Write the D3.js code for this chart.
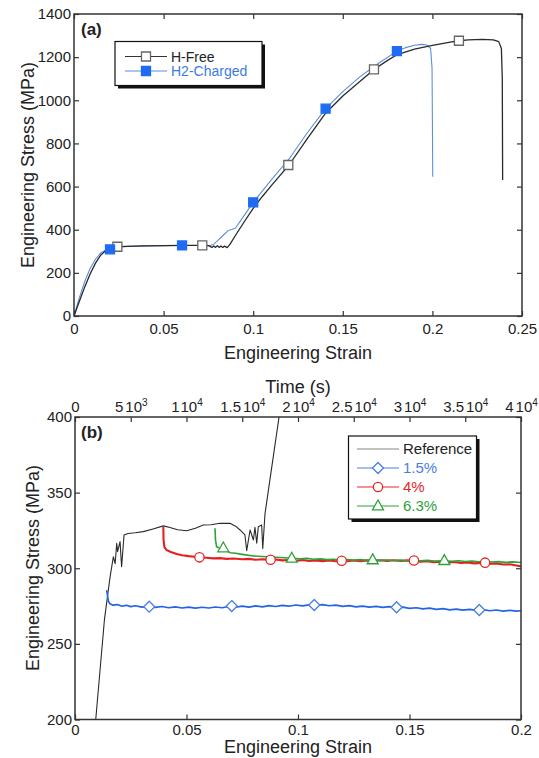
<!DOCTYPE html>
<html>
<head>
<meta charset="utf-8">
<style>

html, body {
  margin: 0; padding: 0;
  background: #fff;
}

text {
  font-family: "Liberation Sans", Arial, sans-serif;
  fill: #222;
}

.tick line {
  stroke: #333;
  stroke-width: 1.2;
}

</style>
<script src="https://cdn.jsdelivr.net/npm/d3@7"></script>
</head>
<body>
<script>
// ---------- panel (a): strain, stress (MPa) ----------
var hFree = [
	[0,0],[0.003,68],[0.006,135],[0.009,195],[0.012,245],[0.015,283],[0.018,306],[0.021,317],
	[0.024,321],[0.03,323],[0.04,325],[0.05,326],[0.06,327],[0.07,327],[0.075,326],
	[0.077,318],[0.078,325],[0.079,318],[0.080,326],[0.081,318],[0.082,325],[0.083,318],
	[0.084,324],[0.0855,317],[0.087,332],[0.09,372],[0.095,437],[0.1,499],[0.105,553],
	[0.11,603],[0.115,652],[0.12,700],[0.13,820],[0.1404,940],[0.15,1020],[0.16,1090],
	[0.1674,1143],[0.175,1185],[0.18,1210],[0.19,1237],[0.2,1255],[0.21,1270],[0.2148,1276],
	[0.22,1280],[0.228,1282],[0.234,1280],[0.237,1272],[0.2385,1240],[0.239,1100],[0.2392,630]
];
var h2Charged = [
	[0,0],[0.003,85],[0.006,160],[0.009,220],[0.012,263],[0.015,293],[0.018,306],[0.0201,309],
	[0.024,320],[0.03,323],[0.04,325],[0.05,326],[0.0603,327],[0.07,327],[0.076,327],
	[0.078,333],[0.08,348],[0.083,372],[0.086,396],[0.088,401],[0.09,407],[0.093,442],
	[0.1,527],[0.11,630],[0.12,728],[0.13,847],[0.1404,961],[0.15,1040],[0.16,1112],
	[0.17,1172],[0.1802,1228],[0.185,1244],[0.19,1255],[0.194,1259],[0.197,1256],
	[0.199,1240],[0.1998,1150],[0.2002,645]
];
var hFreeMarks = [[0.0242,321],[0.0716,327],[0.1196,700],[0.1674,1143],[0.2148,1276]];
var h2Marks = [[0.0201,309],[0.0603,327],[0.1,527],[0.1404,961],[0.1802,1228]];
var strainTicksA = [0, 0.05, 0.1, 0.15, 0.2, 0.25];
var stressTicksA = [0, 200, 400, 600, 800, 1000, 1200, 1400];
var legendA = ["H-Free", "H2-Charged"];

// ---------- panel (b) ----------
var reference = [
	[0.0093,200],[0.0132,266],[0.0157,294],[0.0172,307.6],[0.018,303],[0.0187,316.5],
	[0.0191,311],[0.0202,317.6],[0.0209,301],[0.022,322],[0.0238,323],[0.027,323.5],
	[0.0306,324.2],[0.035,326],[0.0396,328],[0.0426,327],[0.046,325.5],[0.0501,324.8],
	[0.054,326.5],[0.0575,328.6],[0.061,328.8],[0.065,329.7],[0.0695,329.7],[0.072,327.8],
	[0.074,325.3],[0.0762,322],[0.077,311.6],[0.0785,325.3],[0.08,318.7],[0.0807,327],
	[0.0815,316.5],[0.0822,327.5],[0.0837,328.6],[0.0842,313],[0.0852,336],[0.0874,358.4],
	[0.0916,401]
];
var pre15 = [
	[0.0142,285.6],[0.015,278],[0.0157,276.5],[0.017,275.6],[0.019,276],[0.021,274.9],
	[0.023,275.5],[0.025,274.6],[0.027,275.2],[0.03,274.3],[0.033,274.8],[0.036,274.1],
	[0.039,274.7],[0.042,273.9],[0.045,274.5],[0.048,273.7],[0.051,274.3],[0.054,273.6],
	[0.057,274.2],[0.06,273.7],[0.063,274.4],[0.066,273.9],[0.069,274.7],[0.072,274.2],
	[0.075,274.9],[0.078,274.3],[0.081,275.1],[0.084,274.5],[0.087,275.3],[0.09,274.7],
	[0.093,275.5],[0.096,274.9],[0.099,275.7],[0.102,275.1],[0.105,275.8],[0.108,275.4],
	[0.111,276],[0.114,275.2],[0.117,275.6],[0.12,274.8],[0.123,275.3],[0.126,274.5],
	[0.129,275],[0.132,274.3],[0.135,274.8],[0.138,274.1],[0.141,274.6],[0.144,273.9],
	[0.147,274.3],[0.15,273.5],[0.153,273.9],[0.156,273.1],[0.159,273.6],[0.162,272.8],
	[0.165,273.3],[0.168,272.5],[0.171,273],[0.174,272.3],[0.177,272.8],[0.18,272.1],
	[0.183,272.6],[0.186,271.9],[0.189,272.4],[0.192,271.7],[0.195,272.2],[0.198,271.6],
	[0.2,271.9]
];
var pre4 = [
	[0.0396,327.5],[0.0397,319],[0.0401,314],[0.0411,312],[0.043,310.8],[0.0456,309.4],
	[0.048,308.6],[0.051,308],[0.0535,307.6],[0.0558,307.2],[0.059,306.9],[0.062,306.5],
	[0.065,306.7],[0.068,306.2],[0.071,306.4],[0.075,305.9],[0.078,306.2],[0.081,305.6],
	[0.084,305.9],[0.0877,305.6],[0.09,305.8],[0.093,305.2],[0.096,305.5],[0.099,305],
	[0.102,305.4],[0.105,304.8],[0.108,305.2],[0.111,304.7],[0.114,305.1],[0.117,304.6],
	[0.1196,305],[0.122,304.6],[0.125,305.1],[0.128,304.7],[0.131,305.2],[0.134,304.8],
	[0.137,305.3],[0.14,304.9],[0.143,305.3],[0.146,304.8],[0.149,305.2],[0.152,305],
	[0.155,304.4],[0.158,304.7],[0.161,304],[0.164,304.3],[0.167,303.7],[0.17,304.1],
	[0.173,303.5],[0.176,303.8],[0.179,303.2],[0.1839,303.7],[0.186,303],[0.189,303.2],
	[0.192,302.5],[0.195,302.6],[0.198,301.8],[0.2,301.2]
];
var pre63 = [
	[0.0628,326.4],[0.063,319],[0.0635,314.2],[0.0645,313.6],[0.0665,313],[0.068,311.6],
	[0.0695,310.3],[0.072,309.9],[0.075,309.2],[0.08,308.1],[0.084,307.8],[0.088,307.4],
	[0.092,307.1],[0.0972,306.6],[0.101,306.3],[0.104,306.5],[0.107,306],[0.11,306.2],
	[0.113,305.7],[0.116,306],[0.119,305.5],[0.122,305.8],[0.125,305.4],[0.128,305.7],
	[0.131,305.3],[0.1335,305.5],[0.137,305.2],[0.14,305.5],[0.143,305.1],[0.146,305.4],
	[0.149,305],[0.152,305.3],[0.155,304.9],[0.158,305.2],[0.161,304.8],[0.1656,305],
	[0.169,304.6],[0.172,305],[0.175,304.5],[0.178,304.8],[0.181,304.3],[0.184,304.6],
	[0.187,304.1],[0.19,304.4],[0.193,303.9],[0.196,304.2],[0.2,303.8]
];
var marks15 = [[0.0333,274.6],[0.0703,275],[0.1073,275.7],[0.1442,274.2],[0.1813,272.4]];
var marks4 = [[0.0558,307.2],[0.0877,305.6],[0.1196,305],[0.152,305.1],[0.1839,303.7]];
var marks63 = [[0.0665,313.4],[0.0972,306.6],[0.1335,305.5],[0.1656,305]];
var strainTicksB = [0, 0.05, 0.1, 0.15, 0.2];
var stressTicksB = [200, 250, 300, 350, 400];
var timeTicks = [0, 5000, 10000, 15000, 20000, 25000, 30000, 35000, 40000];
var timeMantissa = ["0", "5", "1", "1.5", "2", "2.5", "3", "3.5", "4"];
var timeExponent = ["", "3", "4", "4", "4", "4", "4", "4", "4"];
var legendB = ["Reference", "1.5%", "4%", "6.3%"];

var W = 539, H = 758;

var svg = d3.select("body").append("svg")
	.attr("width", W)
	.attr("height", H)
	.style("background", "#fff");

var xa = d3.scaleLinear().domain([0, 0.25]).range([74, 522]);
var ya = d3.scaleLinear().domain([0, 1400]).range([316, 14]);
var xb = d3.scaleLinear().domain([0, 0.2]).range([75, 521]);
var yb = d3.scaleLinear().domain([200, 400]).range([719.5, 417]);
var tb = d3.scaleLinear().domain([0, 40000]).range([75, 521]);

var fmt = function(d) { return String(d); };

// ticks point inward on all four sides, labels on left and bottom
var drawFrame = function(x, y, xTicks, yTicks, bottomPad, withTop) {
	var x0 = x.range()[0], x1 = x.range()[1];
	var y0 = y.range()[1], y1 = y.range()[0];

	svg.append("g")
		.attr("transform", "translate(0," + y1 + ")")
		.call(d3.axisBottom(x).tickValues(xTicks).tickSizeInner(-5).tickSizeOuter(0)
			.tickPadding(bottomPad).tickFormat(fmt))
		.call(function(g) { g.select(".domain").remove(); });

	svg.append("g")
		.attr("transform", "translate(" + x0 + ",0)")
		.call(d3.axisLeft(y).tickValues(yTicks).tickSizeInner(-5).tickSizeOuter(0)
			.tickPadding(3).tickFormat(fmt))
		.call(function(g) { g.select(".domain").remove(); });

	svg.append("g")
		.attr("transform", "translate(" + x1 + ",0)")
		.call(d3.axisRight(y).tickValues(yTicks).tickSizeInner(-5).tickSizeOuter(0).tickFormat(""))
		.call(function(g) { g.select(".domain").remove(); });

	if (withTop) {
		svg.append("g")
			.attr("transform", "translate(0," + y0 + ")")
			.call(d3.axisTop(x).tickValues(xTicks).tickSizeInner(-5).tickSizeOuter(0).tickFormat(""))
			.call(function(g) { g.select(".domain").remove(); });
	}

	svg.selectAll(".tick text")
		.style("font-size", "15px")
		.attr("fill", "#222");

	svg.append("rect")
		.attr("x", x0).attr("y", y0)
		.attr("width", x1 - x0).attr("height", y1 - y0)
		.attr("fill", "none")
		.attr("stroke", "#333")
		.attr("stroke-width", 1.5);
};

var addClip = function(id, x, y) {
	svg.append("clipPath").attr("id", id)
		.append("rect")
		.attr("x", x.range()[0]).attr("y", y.range()[1])
		.attr("width", x.range()[1] - x.range()[0])
		.attr("height", y.range()[0] - y.range()[1]);
};

var drawLine = function(data, x, y, color, width, clip) {
	var line = d3.line()
		.x(function(d) { return x(d[0]); })
		.y(function(d) { return y(d[1]); });
	svg.append("path")
		.datum(data)
		.attr("d", line)
		.attr("fill", "none")
		.attr("stroke", color)
		.attr("stroke-width", width)
		.attr("stroke-linejoin", "round")
		.attr("clip-path", "url(#" + clip + ")");
};

var shapes = {
	square: "M-4.5,-4.5H4.5V4.5H-4.5Z",
	diamond: "M0,-5.5L5.5,0L0,5.5L-5.5,0Z",
	triangle: "M0,-6L5.5,3.8L-5.5,3.8Z",
	circle: d3.symbol(d3.symbolCircle, 68)()
};

var drawMarks = function(data, x, y, shape, stroke, fill) {
	svg.append("g").selectAll("path")
		.data(data)
		.enter().append("path")
		.attr("transform", function(d) { return "translate(" + x(d[0]) + "," + y(d[1]) + ")"; })
		.attr("d", shapes[shape])
		.attr("fill", fill)
		.attr("stroke", stroke)
		.attr("stroke-width", 1.3);
};

var drawLegend = function(box, items, rowY, fontSize) {
	svg.append("rect")
		.attr("x", box[0] + 3).attr("y", box[1] + 3)
		.attr("width", box[2]).attr("height", box[3])
		.attr("fill", "#111");
	svg.append("rect")
		.attr("x", box[0]).attr("y", box[1])
		.attr("width", box[2]).attr("height", box[3])
		.attr("fill", "#fff")
		.attr("stroke", "#111")
		.attr("stroke-width", 1.2);

	items.forEach(function(it, i) {
		var cy = rowY[i];
		svg.append("line")
			.attr("x1", it.x1).attr("x2", it.x2)
			.attr("y1", cy).attr("y2", cy)
			.attr("stroke", it.line)
			.attr("stroke-width", 1.1);
		if (it.shape) {
			svg.append("path")
				.attr("transform", "translate(" + ((it.x1 + it.x2) / 2) + "," + cy + ")")
				.attr("d", shapes[it.shape])
				.attr("fill", it.fill)
				.attr("stroke", it.stroke)
				.attr("stroke-width", 1.3);
		}
		svg.append("text")
			.attr("x", it.x2 + 4)
			.attr("y", cy + fontSize * 0.36)
			.style("font-size", fontSize + "px")
			.style("fill", it.text)
			.text(it.label);
	});
};

// ---------- panel (a) ----------
addClip("clipA", xa, ya);
drawLine(h2Charged, xa, ya, "#5b8fda", 1.1, "clipA");
drawLine(hFree, xa, ya, "#2a2a2a", 1.3, "clipA");
drawMarks(hFreeMarks, xa, ya, "square", "#666", "#fff");
drawMarks(h2Marks, xa, ya, "square", "#1f6cf2", "#1f6cf2");
drawFrame(xa, ya, strainTicksA, stressTicksA, 7, true);

drawLegend([115, 41.5, 147, 44], [
	{label: legendA[0], x1: 125, x2: 167, line: "#333", shape: "square", stroke: "#666", fill: "#fff", text: "#222"},
	{label: legendA[1], x1: 125, x2: 167, line: "#5b8fda", shape: "square", stroke: "#1f6cf2", fill: "#1f6cf2", text: "#3d7be2"}
], [56.5, 71], 14);

svg.append("text")
	.attr("x", 81).attr("y", 35)
	.style("font-size", "17px").style("font-weight", "bold")
	.text("(a)");

svg.append("text")
	.attr("x", (74 + 522) / 2).attr("y", 359)
	.attr("text-anchor", "middle")
	.style("font-size", "18px")
	.text("Engineering Strain");

svg.append("text")
	.attr("transform", "translate(34,165) rotate(-90)")
	.attr("text-anchor", "middle")
	.style("font-size", "18px")
	.text("Engineering Stress (MPa)");

// ---------- panel (b) ----------
addClip("clipB", xb, yb);
drawLine(reference, xb, yb, "#2a2a2a", 1.1, "clipB");
drawLine(pre15, xb, yb, "#2563e6", 1.7, "clipB");
drawLine(pre4, xb, yb, "#e5201f", 2.1, "clipB");
drawLine(pre63, xb, yb, "#2ea23a", 1.6, "clipB");
drawMarks(marks15, xb, yb, "diamond", "#4a7ee2", "#fff");
drawMarks(marks4, xb, yb, "circle", "#e5262a", "#fff");
drawMarks(marks63, xb, yb, "triangle", "#2ea23a", "#fff");
drawFrame(xb, yb, strainTicksB, stressTicksB, 5, false);

// time axis on top
var topAxis = svg.append("g")
	.attr("transform", "translate(0,417)")
	.call(d3.axisTop(tb).tickValues(timeTicks).tickSizeInner(-5).tickSizeOuter(0)
		.tickPadding(5).tickFormat(""))
	.call(function(g) { g.select(".domain").remove(); });

topAxis.selectAll(".tick text").each(function(d, i) {
	var t = d3.select(this).style("font-size", "15px").attr("fill", "#222");
	t.append("tspan").text(timeMantissa[i]);
	if (timeExponent[i]) {
		t.append("tspan").attr("dx", 2).text("10");
		t.append("tspan").attr("dy", -6).style("font-size", "10px").text(timeExponent[i]);
	}
});

drawLegend([348.5, 436, 128, 83], [
	{label: legendB[0], x1: 357, x2: 399, line: "#888", text: "#222"},
	{label: legendB[1], x1: 357, x2: 399, line: "#4a7ee2", shape: "diamond", stroke: "#4a7ee2", fill: "#fff", text: "#4a7ee2"},
	{label: legendB[2], x1: 357, x2: 399, line: "#e5262a", shape: "circle", stroke: "#e5262a", fill: "#fff", text: "#e5262a"},
	{label: legendB[3], x1: 357, x2: 399, line: "#2ea23a", shape: "triangle", stroke: "#2ea23a", fill: "#fff", text: "#2ea23a"}
], [449, 468, 487, 506], 15);

svg.append("text")
	.attr("x", 81).attr("y", 438)
	.style("font-size", "17px").style("font-weight", "bold")
	.text("(b)");

svg.append("text")
	.attr("x", (75 + 521) / 2).attr("y", 393)
	.attr("text-anchor", "middle")
	.style("font-size", "18px")
	.text("Time (s)");

svg.append("text")
	.attr("x", (75 + 521) / 2).attr("y", 753)
	.attr("text-anchor", "middle")
	.style("font-size", "18px")
	.text("Engineering Strain");

svg.append("text")
	.attr("transform", "translate(39,568) rotate(-90)")
	.attr("text-anchor", "middle")
	.style("font-size", "18px")
	.text("Engineering Stress (MPa)");

</script>
</body>
</html>
